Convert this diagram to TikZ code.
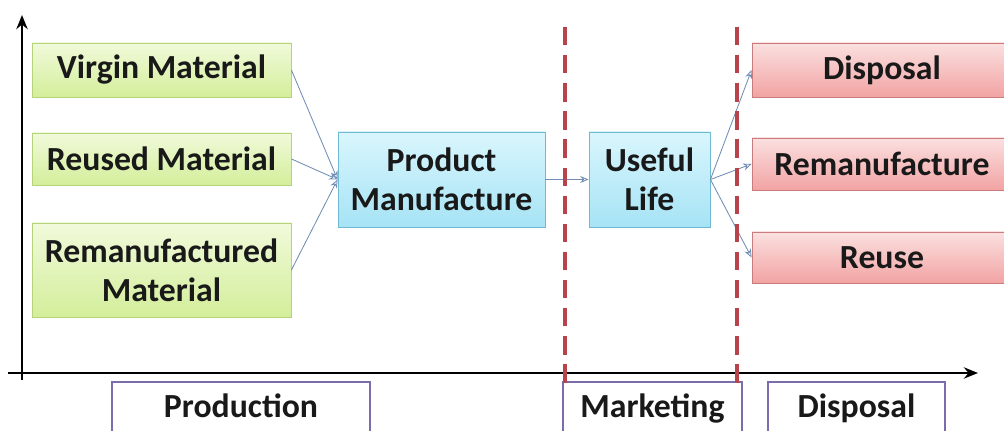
\documentclass[tikz,border=0pt]{standalone}
\usepackage{fontspec}
\setmainfont{Carlito}
\usepackage{tikz}
\usetikzlibrary{positioning, arrows.meta, calc}
\usepackage{xcolor}
\definecolor{lcgreentop}{HTML}{F1FADB}
\definecolor{lcgreenbot}{HTML}{D3EE9A}
\definecolor{lcgreenline}{HTML}{B5D37A}
\definecolor{lcbluetop}{HTML}{D9F6FD}
\definecolor{lcbluebot}{HTML}{A6E3F5}
\definecolor{lcblueline}{HTML}{6FB9D2}
\definecolor{lcredtop}{HTML}{FBE0E0}
\definecolor{lcredbot}{HTML}{F2A3A3}
\definecolor{lcredline}{HTML}{C97C7C}
\definecolor{lcdash}{HTML}{B8434B}
\definecolor{lcarrow}{HTML}{6F8DB5}
\definecolor{lcphase}{HTML}{7D6CAA}

\begin{document}
\begin{tikzpicture}[font=\fontsize{24}{28}\selectfont\bfseries,
    box/.style={draw, line width=0.6pt, align=center, inner sep=2pt, text=black!90},
    mat/.style={box, draw=lcgreenline, top color=lcgreentop, bottom color=lcgreenbot,
                minimum width=6.475cm},
    life/.style={box, draw=lcblueline, top color=lcbluetop, bottom color=lcbluebot,
                 minimum height=2.375cm},
    eol/.style={box, draw=lcredline, top color=lcredtop, bottom color=lcredbot,
                minimum width=6.5cm},
    phase/.style={draw=lcphase, line width=1pt, fill=white, text=black!90,
                  minimum height=1.4cm, text height=16pt, text depth=5pt},
    flow/.style={lcarrow, line width=0.6pt, -{Stealth[length=6pt, width=5pt, open]}}]
    \useasboundingbox (0,0) rectangle (25.1,10.775);
    \clip (0,0) rectangle (25.1,10.775);
    % axes
    \draw[line width=2pt, -{Stealth[length=10pt, width=8pt]}] (0.55,1.275) -- (0.55,10.4);
    \draw[line width=2pt, -{Stealth[length=10pt, width=8pt]}] (0.2,1.45) -- (24.45,1.45);
    % input materials
    \node[mat, minimum height=1.35cm] (vm) at (4.0375,9.025) {Virgin Material};
    \node[mat, minimum height=1.3cm] (rm) at (4.0375,6.8) {Reused Material};
    \node[mat, minimum height=2.35cm] (rmm) at (4.0375,4.025) {Remanufactured\\ Material};
    % product
    \node[life, minimum width=5.175cm] (pm) at (11.0375,6.2875) {Product\\ Manufacture};
    \node[life, minimum width=3.025cm] (ul) at (16.2375,6.2875) {Useful\\ Life};
    % end of life
    \node[eol, minimum height=1.35cm] (dp) at (22.05,9.025) {Disposal};
    \node[eol, minimum height=1.3cm] (rf) at (22.05,6.675) {Remanufacture};
    \node[eol, minimum height=1.275cm] (ru) at (22.05,4.3375) {Reuse};
    % phases
    \node[phase, minimum width=6.45cm] (prod) at (6.025,0.525) {Production};
    \node[phase, minimum width=4.475cm] (mkt) at (16.3125,0.525) {Marketing};
    \node[phase, minimum width=4.425cm] (disp) at (21.4125,0.525) {Disposal};
    % connectors
    \foreach \n in {vm,rm,rmm}
      \draw[flow] (\n.east) -- (pm.west);
    \draw[flow] (pm.east) -- (ul.west);
    \foreach \n in {dp,rf,ru}
      \draw[flow] (ul.east) -- (\n.west);
    % phase borders
    \draw[lcdash, line width=2.2pt, dash pattern=on 13pt off 7pt] (14.125,10.1) -- (14.125,1.15);
    \draw[lcdash, line width=2.2pt, dash pattern=on 13pt off 7pt] (18.425,10.1) -- (18.425,1.15);
  \end{tikzpicture}
\end{document}
